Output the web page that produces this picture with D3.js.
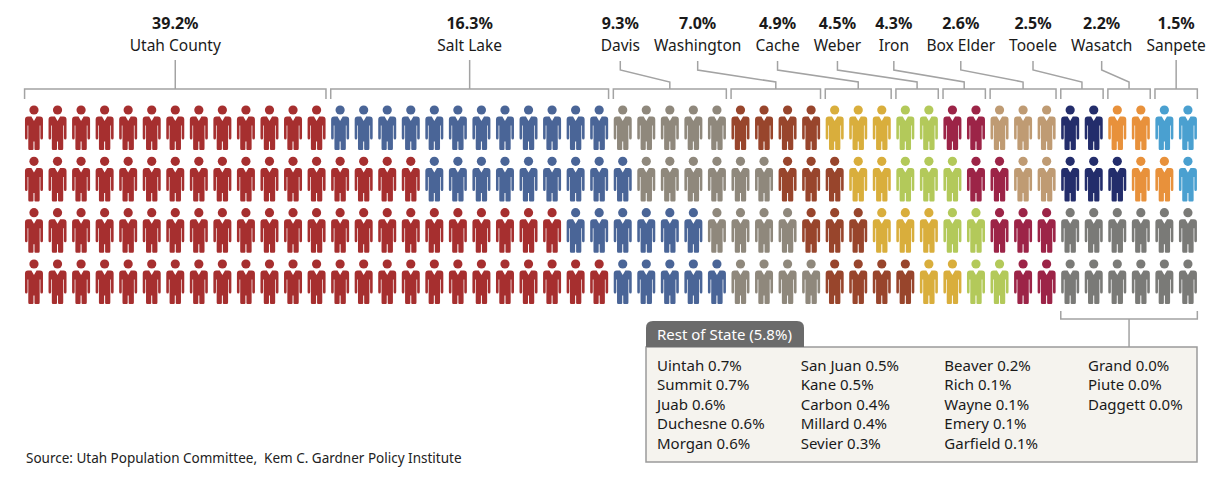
<!DOCTYPE html>
<html>
<head>
<meta charset="utf-8">
<script src="https://cdn.jsdelivr.net/npm/d3@7"></script>
<style>
  body { margin: 0; background: #fff; }
  text { font-family: "Noto Sans", "Open Sans", sans-serif; }
</style>
</head>
<body>
<script>
// counties, their share of growth and how many figures each gets per row
const counties = ["Utah County", "Salt Lake", "Davis", "Washington", "Cache", "Weber", "Iron",
  "Box Elder", "Tooele", "Wasatch", "Sanpete", "Rest of State"];
const shares = [39.2, 16.3, 9.3, 7.0, 4.9, 4.5, 4.3, 2.6, 2.5, 2.2, 1.5, 5.8];
const figuresPerRow = [
  [13, 17, 23, 25], // Utah County
  [12, 9, 6, 5],    // Salt Lake
  [5, 6, 4, 4],     // Davis
  [4, 3, 3, 4],     // Washington
  [3, 2, 3, 2],     // Cache
  [2, 3, 2, 2],     // Weber
  [2, 2, 3, 2],     // Iron
  [3, 2, 0, 0],     // Box Elder
  [2, 3, 0, 0],     // Tooele
  [2, 2, 0, 0],     // Wasatch
  [2, 1, 0, 0],     // Sanpete
  [0, 0, 6, 6]      // Rest of State
];
const countyColors = ["#a62f2f", "#4a6597", "#8f887c", "#98452c", "#d9ae3c", "#b3c95a",
  "#9c2447", "#bf9b73", "#232d6b", "#e8913b", "#4aa0d0", "#7a7a77"];

// the small counties listed in the box
const restCounties = ["Uintah", "Summit", "Juab", "Duchesne", "Morgan",
  "San Juan", "Kane", "Carbon", "Millard", "Sevier",
  "Beaver", "Rich", "Wayne", "Emery", "Garfield",
  "Grand", "Piute", "Daggett"];
const restShares = [0.7, 0.7, 0.6, 0.6, 0.6, 0.5, 0.5, 0.4, 0.4, 0.3,
  0.2, 0.1, 0.1, 0.1, 0.1, 0.0, 0.0, 0.0];

const W = 1228, H = 487;
const nCols = 50, nRows = 4;

const svg = d3.select("body").append("svg")
  .attr("width", W)
  .attr("height", H);

svg.append("rect").attr("width", W).attr("height", H).attr("fill", "#fff");

// scales
const x = d3.scaleBand()
  .domain(d3.range(nCols))
  .range([22.2, 1199.7]);
const y = d3.scalePoint()
  .domain(d3.range(nRows))
  .range([110, 264]);
const color = d3.scaleOrdinal().domain(counties).range(countyColors);
const cx = c => x(c) + x.bandwidth() / 2;

// lay figures out row by row, county after county
const figures = [];
const spans = counties.map(() => []); // first/last column per row
d3.range(nRows).forEach(r => {
  let col = 0;
  counties.forEach((name, i) => {
    const n = figuresPerRow[i][r];
    if (n > 0) spans[i][r] = [col, col + n - 1];
    for (let k = 0; k < n; k++) figures.push({ county: name, row: r, col: col + k });
    col += n;
  });
});

// person shape: head circle + suit body
const bodyPath = "M-9,3 Q-9,0 -6,0 L-2.6,0 L0,4.5 L2.6,0 L6,0 Q9,0 9,3 L9,21.5 Q9,23 7.7,23 Q6.4,23 6.4,21.5 " +
  "L6.4,9 L5.7,9 L5.7,32 Q5.7,33.5 4.5,33.5 L1.5,33.5 Q0.5,33.5 0.5,32.5 L0.5,25 L-0.5,25 L-0.5,32.5 " +
  "Q-0.5,33.5 -1.5,33.5 L-4.5,33.5 Q-5.7,33.5 -5.7,32 L-5.7,9 L-6.4,9 L-6.4,21.5 Q-6.4,23 -7.7,23 " +
  "Q-9,23 -9,21.5 Z";

const fig = svg.append("g").selectAll("g.person")
  .data(figures)
  .enter().append("g")
  .attr("class", "person")
  .attr("transform", d => "translate(" + cx(d.col) + "," + y(d.row) + ")")
  .attr("fill", d => color(d.county));

fig.append("circle").attr("r", 4.6);
fig.append("path").attr("d", bodyPath).attr("transform", "translate(0,6.6)");

// brackets above row 1
const lineColor = "#a3a3a3";
const brY = 89, tick = 10, pad = 9.4;
const lines = svg.append("g")
  .attr("fill", "none")
  .attr("stroke", lineColor)
  .attr("stroke-width", 1.5);

const topCounties = d3.range(counties.length - 1);
const brCenter = topCounties.map(i => {
  const [a, b] = spans[i][0];
  return (cx(a) + cx(b)) / 2;
});

topCounties.forEach(i => {
  const [a, b] = spans[i][0];
  const x0 = cx(a) - pad, x1 = cx(b) + pad;
  lines.append("path")
    .attr("d", "M" + x0 + "," + (brY + tick) + "V" + brY + "H" + x1 + "V" + (brY + tick));
});

// labels over the brackets
const labels = svg.append("g").selectAll("g.label")
  .data(topCounties)
  .enter().append("g")
  .attr("class", "label");

labels.append("text")
  .attr("y", 28.5)
  .attr("text-anchor", "middle")
  .attr("font-size", 16)
  .attr("font-weight", "bold")
  .attr("fill", "#1a1a1a")
  .text(i => shares[i].toFixed(1) + "%");

labels.append("text")
  .attr("y", 51)
  .attr("text-anchor", "middle")
  .attr("font-size", 15.5)
  .attr("fill", "#1a1a1a")
  .text(i => counties[i]);

// push labels left so they don't collide, starting from the right end
const widths = [];
labels.each(function (i) {
  widths[i] = d3.max(d3.select(this).selectAll("text").nodes(), n => n.getComputedTextLength());
});
const gap = 14;
const labelX = [];
for (let k = topCounties.length - 1; k >= 0; k--) {
  const i = topCounties[k];
  if (k === topCounties.length - 1) labelX[i] = brCenter[i];
  else {
    const j = topCounties[k + 1];
    labelX[i] = Math.min(brCenter[i], labelX[j] - widths[j] / 2 - gap - widths[i] / 2);
  }
}
labels.attr("transform", i => "translate(" + labelX[i] + ",0)");

// leader lines
topCounties.forEach(i => {
  const lx = labelX[i], bx = brCenter[i];
  let d;
  if (Math.abs(lx - bx) < 1) d = "M" + bx + ",60V" + brY;
  else d = "M" + lx + ",61V70L" + bx + ",82V" + brY;
  lines.append("path").attr("d", d);
});

// bracket under the rest-of-state figures
const restIdx = counties.length - 1;
const [ra, rb] = spans[restIdx][3];
const rx0 = cx(ra) - pad, rx1 = cx(rb) + pad, rMid = (cx(ra) + cx(rb)) / 2;
const boxTop = 347, boxLeft = 646, boxRight = 1197, boxBottom = 462;
lines.append("path")
  .attr("d", "M" + rx0 + ",311V319H" + rx1 + "V311");
lines.append("path")
  .attr("d", "M" + rMid + ",319V" + boxTop);

// rest of state box
svg.append("rect")
  .attr("x", boxLeft)
  .attr("y", boxTop)
  .attr("width", boxRight - boxLeft)
  .attr("height", boxBottom - boxTop)
  .attr("fill", "#f5f3ee")
  .attr("stroke", "#9a9a9a")
  .attr("stroke-width", 1.5);

const tabR = 7, tabTop = 321, tabRight = 804;
svg.append("path")
  .attr("d", "M" + boxLeft + "," + boxTop + "V" + (tabTop + tabR) +
    "Q" + boxLeft + "," + tabTop + " " + (boxLeft + tabR) + "," + tabTop +
    "H" + (tabRight - tabR) + "Q" + tabRight + "," + tabTop + " " + tabRight + "," + (tabTop + tabR) +
    "V" + boxTop + "Z")
  .attr("fill", "#6b6b6b");

svg.append("text")
  .attr("x", 657)
  .attr("y", 340)
  .attr("font-size", 15)
  .attr("fill", "#fff")
  .text(counties[restIdx] + " (" + shares[restIdx].toFixed(1) + "%)");

const colX = d3.scaleLinear().domain([0, 3]).range([657, 1088]);
const rowY = d3.scaleLinear().domain([0, 4]).range([371, 448.5]);

svg.append("g").selectAll("text")
  .data(restCounties)
  .enter().append("text")
  .attr("x", (d, i) => colX(Math.floor(i / 5)))
  .attr("y", (d, i) => rowY(i % 5))
  .attr("font-size", 15)
  .attr("fill", "#1a1a1a")
  .text((d, i) => d + " " + restShares[i].toFixed(1) + "%");

// source line
svg.append("text")
  .attr("x", 26)
  .attr("y", 463)
  .attr("font-size", 13.5)
  .attr("fill", "#222")
  .attr("xml:space", "preserve")
  .style("white-space", "pre")
  .text("Source: Utah Population Committee,  Kem C. Gardner Policy Institute");
</script>
</body>
</html>
